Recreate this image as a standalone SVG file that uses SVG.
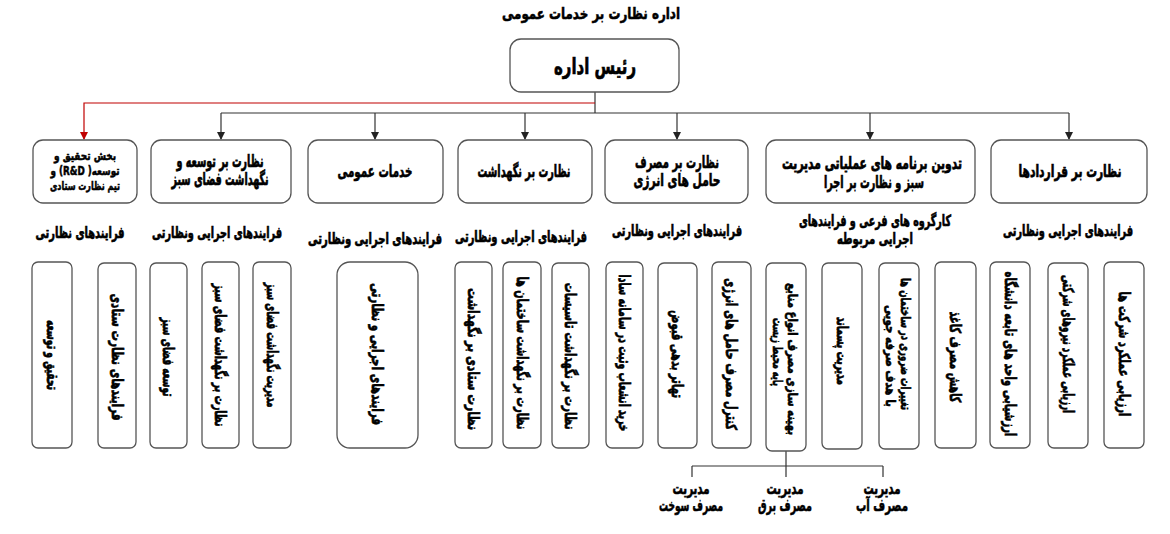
<svg xmlns="http://www.w3.org/2000/svg" width="1170" height="534" viewBox="0 0 1170 534">
<defs>
<marker id="ab" markerWidth="8" markerHeight="8" refX="4" refY="7" markerUnits="userSpaceOnUse" viewBox="0 0 8 8"><path d="M0,0 L8,0 L4,8 Z" fill="#222"/></marker>
<marker id="ar" markerWidth="8" markerHeight="8" refX="4" refY="7" markerUnits="userSpaceOnUse" viewBox="0 0 8 8"><path d="M0,0 L8,0 L4,8 Z" fill="#c00000"/></marker>
</defs>
<style>
text{font-family:"DejaVu Sans",sans-serif;font-weight:bold;fill:#000;stroke:#000;stroke-width:0.4;text-anchor:middle;dominant-baseline:central}
.box{fill:#fff;stroke:#555;stroke-width:1.3}
.v{font-size:9px}
.c{fill:none;stroke:#333;stroke-width:1.2}
.r{fill:none;stroke:#c00000;stroke-width:1.2}
</style>
<rect width="1170" height="534" fill="#fff"/>
<text id="title" transform="translate(591,13) scale(1,1.45)" style="font-size:11px" textLength="178" lengthAdjust="spacingAndGlyphs">اداره نظارت بر خدمات عمومی</text>

<g id="connectors">
<path class="c" d="M595,92 V113"/>
<path class="r" d="M595,103 H84 V139" marker-end="url(#ar)"/>
<path class="c" d="M221,113 H1069"/>
<path class="c" d="M221,113 V139" marker-end="url(#ab)"/>
<path class="c" d="M375,113 V139" marker-end="url(#ab)"/>
<path class="c" d="M525,113 V139" marker-end="url(#ab)"/>
<path class="c" d="M677,113 V139" marker-end="url(#ab)"/>
<path class="c" d="M870,113 V139" marker-end="url(#ab)"/>
<path class="c" d="M1069,113 V139" marker-end="url(#ab)"/>
<path class="c" d="M786,451 V477 M692,466 H883 M692,466 V477 M883,466 V477"/>
</g>

<g id="head"><rect class="box" x="510" y="39" width="169" height="53" rx="11"/><text transform="translate(595,66) scale(1,1.7)" style="font-size:13px" textLength="82" lengthAdjust="spacingAndGlyphs">رئیس اداره</text></g>

<g id="rd"><rect class="box" x="33" y="140" width="104" height="63" rx="10"/>
<text transform="translate(85,156) scale(1,1.35)" style="font-size:8.5px" textLength="62" lengthAdjust="spacingAndGlyphs">بخش تحقیق و</text>
<text transform="translate(85,171) scale(1,1.35)" style="font-size:8.5px;direction:rtl;unicode-bidi:embed" textLength="69" lengthAdjust="spacingAndGlyphs">توسعه( R&amp;D) و</text>
<text transform="translate(85,186) scale(1,1.35)" style="font-size:8.5px" textLength="70" lengthAdjust="spacingAndGlyphs">تیم نظارت ستادی</text></g>

<g id="green"><rect class="box" x="151" y="140" width="140" height="63" rx="10"/>
<text transform="translate(220,161) scale(1,1.85)" style="font-size:9.3px" textLength="87" lengthAdjust="spacingAndGlyphs">نظارت بر توسعه و</text>
<text transform="translate(220,179) scale(1,1.85)" style="font-size:9.3px" textLength="97" lengthAdjust="spacingAndGlyphs">نگهداشت فضای سبز</text></g>

<g id="public"><rect class="box" x="308" y="140" width="135" height="63" rx="10"/>
<text transform="translate(375,171) scale(1,1.55)" style="font-size:10.8px" textLength="75" lengthAdjust="spacingAndGlyphs">خدمات عمومی</text></g>

<g id="maint"><rect class="box" x="458" y="140" width="134" height="63" rx="10"/>
<text transform="translate(524,171) scale(1,1.8)" style="font-size:9.4px" textLength="93" lengthAdjust="spacingAndGlyphs">نظارت بر نگهداشت</text></g>

<g id="energy"><rect class="box" x="605" y="140" width="143" height="63" rx="10"/>
<text transform="translate(677,162) scale(1,1.7)" style="font-size:10px" textLength="84" lengthAdjust="spacingAndGlyphs">نظارت بر مصرف</text>
<text transform="translate(677,180) scale(1,1.7)" style="font-size:10px" textLength="87" lengthAdjust="spacingAndGlyphs">حامل های انرژی</text></g>

<g id="plan"><rect class="box" x="766" y="140" width="209" height="63" rx="10"/>
<text transform="translate(872,163) scale(1,1.85)" style="font-size:9px" textLength="180" lengthAdjust="spacingAndGlyphs">تدوین برنامه های عملیاتی مدیریت</text>
<text transform="translate(874,182) scale(1,1.85)" style="font-size:9px" textLength="100" lengthAdjust="spacingAndGlyphs">سبز و نظارت بر اجرا</text></g>

<g id="contracts"><rect class="box" x="991" y="140" width="156" height="63" rx="10"/>
<text transform="translate(1070,171) scale(1,1.8)" style="font-size:9.2px" textLength="103" lengthAdjust="spacingAndGlyphs">نظارت بر قراردادها</text></g>

<g id="labels">
<text transform="translate(80,232) scale(1,1.8)" style="font-size:8.6px" textLength="89" lengthAdjust="spacingAndGlyphs">فرایندهای  نظارتی</text>
<text transform="translate(217,232) scale(1,1.8)" style="font-size:8.6px" textLength="130" lengthAdjust="spacingAndGlyphs">فرایندهای اجرایی ونظارتی</text>
<text transform="translate(375,238) scale(1,1.8)" style="font-size:8.6px" textLength="134" lengthAdjust="spacingAndGlyphs">فرایندهای اجرایی ونظارتی</text>
<text transform="translate(521,236) scale(1,1.8)" style="font-size:8.6px" textLength="132" lengthAdjust="spacingAndGlyphs">فرایندهای اجرایی ونظارتی</text>
<text transform="translate(677,230) scale(1,1.8)" style="font-size:8.6px" textLength="130" lengthAdjust="spacingAndGlyphs">فرایندهای اجرایی ونظارتی</text>
<text transform="translate(875,220) scale(1,1.8)" style="font-size:8.6px" textLength="152" lengthAdjust="spacingAndGlyphs">کارگروه های فرعی و فرایندهای</text>
<text transform="translate(875,238) scale(1,1.8)" style="font-size:8.6px" textLength="76" lengthAdjust="spacingAndGlyphs">اجرایی مربوطه</text>
<text transform="translate(1068,230) scale(1,1.8)" style="font-size:8.6px" textLength="130" lengthAdjust="spacingAndGlyphs">فرایندهای اجرایی ونظارتی</text>
</g>

<g id="b1"><rect class="box" x="32" y="262" width="40" height="186" rx="6"/><text class="v" transform="translate(52,355) rotate(90) scale(1,1.7)" textLength="70" lengthAdjust="spacingAndGlyphs">تحقیق و توسعه</text></g>
<g id="b2"><rect class="box" x="98" y="263" width="38" height="185" rx="6"/><text class="v" transform="translate(117,357) rotate(90) scale(1,1.7)" textLength="127" lengthAdjust="spacingAndGlyphs">فرایندهای  نظارت ستادی</text></g>
<g id="b3"><rect class="box" x="150" y="263" width="37" height="185" rx="6"/><text class="v" transform="translate(168,357) rotate(90) scale(1,1.7)" textLength="79" lengthAdjust="spacingAndGlyphs">توسعه فضای سبز</text></g>
<g id="b4"><rect class="box" x="202" y="262" width="37" height="186" rx="6"/><text class="v" transform="translate(220,355) rotate(90) scale(1,1.7)" textLength="143" lengthAdjust="spacingAndGlyphs">نظارت بر نگهداشت فضای سبز</text></g>
<g id="b5"><rect class="box" x="253" y="262" width="38" height="186" rx="6"/><text class="v" transform="translate(272,345) rotate(90) scale(1,1.7)" textLength="125" lengthAdjust="spacingAndGlyphs">مدیریت نگهداشت فضای سبز</text></g>
<g id="b6"><rect class="box" x="337" y="262" width="81" height="186" rx="13"/><text class="v" transform="translate(377,354) rotate(90) scale(1,1.7)" textLength="142" lengthAdjust="spacingAndGlyphs">فرایندهای اجرایی و نظارتی</text></g>
<g id="b7"><rect class="box" x="455" y="262" width="37" height="186" rx="6"/><text class="v" transform="translate(473,359) rotate(90) scale(1,1.7)" textLength="142" lengthAdjust="spacingAndGlyphs">نظارت ستادی بر نگهداشت</text></g>
<g id="b8"><rect class="box" x="503" y="262" width="38" height="186" rx="6"/><text class="v" transform="translate(522,353) rotate(90) scale(1,1.7)" textLength="153" lengthAdjust="spacingAndGlyphs">نظارت بر نگهداشت ساختمان ها</text></g>
<g id="b9"><rect class="box" x="552" y="263" width="37" height="185" rx="6"/><text class="v" transform="translate(570,356) rotate(90) scale(1,1.7)" textLength="147" lengthAdjust="spacingAndGlyphs">نظارت بر نگهداشت تاسیسات</text></g>
<g id="b10"><rect class="box" x="606" y="262" width="37" height="186" rx="6"/><text class="v" transform="translate(624,353) rotate(90) scale(1,1.7)" textLength="157" lengthAdjust="spacingAndGlyphs">خرید انشعاب وثبت در سامانه سادا</text></g>
<g id="b11"><rect class="box" x="658" y="263" width="39" height="185" rx="6"/><text class="v" transform="translate(677,354) rotate(90) scale(1,1.7)" textLength="88" lengthAdjust="spacingAndGlyphs">تهاتر بدهی قبوض</text></g>
<g id="b12"><rect class="box" x="712" y="262" width="39" height="186" rx="6"/><text class="v" transform="translate(731,354) rotate(90) scale(1,1.7)" textLength="152" lengthAdjust="spacingAndGlyphs">کنترل مصرف حامل های انرژی</text></g>
<g id="b13"><rect class="box" x="766" y="263" width="40" height="188" rx="6"/>
<text class="v" transform="translate(793,359) rotate(90) scale(1,1.5)" textLength="152" lengthAdjust="spacingAndGlyphs">بهینه سازی مصرف انواع منابع</text>
<text class="v" transform="translate(778,352) rotate(90) scale(1,1.5)" textLength="68" lengthAdjust="spacingAndGlyphs">پایه محیط زیست</text></g>
<g id="b14"><rect class="box" x="822" y="263" width="40" height="186" rx="6"/><text class="v" transform="translate(842,351) rotate(90) scale(1,1.7)" textLength="68" lengthAdjust="spacingAndGlyphs">مدیریت پسماند</text></g>
<g id="b15"><rect class="box" x="879" y="263" width="40" height="186" rx="6"/>
<text class="v" transform="translate(906,344) rotate(90) scale(1,1.5)" textLength="132" lengthAdjust="spacingAndGlyphs">تغییرات ضروری در ساختمان ها</text>
<text class="v" transform="translate(891,356) rotate(90) scale(1,1.5)" textLength="102" lengthAdjust="spacingAndGlyphs">با هدف صرفه جویی</text></g>
<g id="b16"><rect class="box" x="935" y="262" width="41" height="186" rx="6"/><text class="v" transform="translate(955,357) rotate(90) scale(1,1.7)" textLength="91" lengthAdjust="spacingAndGlyphs">کاهش مصرف کاغذ</text></g>
<g id="b17"><rect class="box" x="990" y="262" width="40" height="186" rx="6"/><text class="v" transform="translate(1010,354) rotate(90) scale(1,1.7)" textLength="165" lengthAdjust="spacingAndGlyphs">ارزشیابی واحد های تابعه دانشگاه</text></g>
<g id="b18"><rect class="box" x="1048" y="263" width="40" height="185" rx="6"/><text class="v" transform="translate(1068,344) rotate(90) scale(1,1.7)" textLength="138" lengthAdjust="spacingAndGlyphs">ارزیابی عملکرد نیروهای شرکتی</text></g>
<g id="b19"><rect class="box" x="1104" y="262" width="40" height="186" rx="6"/><text class="v" transform="translate(1124,354) rotate(90) scale(1,1.7)" textLength="125" lengthAdjust="spacingAndGlyphs">ارزیابی عملکرد شرکت ها</text></g>

<g id="fuel"><text transform="translate(691,488) scale(1,1.55)" style="font-size:10.5px" textLength="37" lengthAdjust="spacingAndGlyphs">مدیریت</text><text transform="translate(691,505) scale(1,1.55)" style="font-size:10.5px" textLength="64" lengthAdjust="spacingAndGlyphs">مصرف سوخت</text></g>
<g id="power"><text transform="translate(785,488) scale(1,1.55)" style="font-size:10.5px" textLength="37" lengthAdjust="spacingAndGlyphs">مدیریت</text><text transform="translate(785,505) scale(1,1.55)" style="font-size:10.5px" textLength="54" lengthAdjust="spacingAndGlyphs">مصرف برق</text></g>
<g id="water"><text transform="translate(882,488) scale(1,1.55)" style="font-size:10.5px" textLength="37" lengthAdjust="spacingAndGlyphs">مدیریت</text><text transform="translate(882,505) scale(1,1.55)" style="font-size:10.5px" textLength="52" lengthAdjust="spacingAndGlyphs">مصرف آب</text></g>
</svg>
